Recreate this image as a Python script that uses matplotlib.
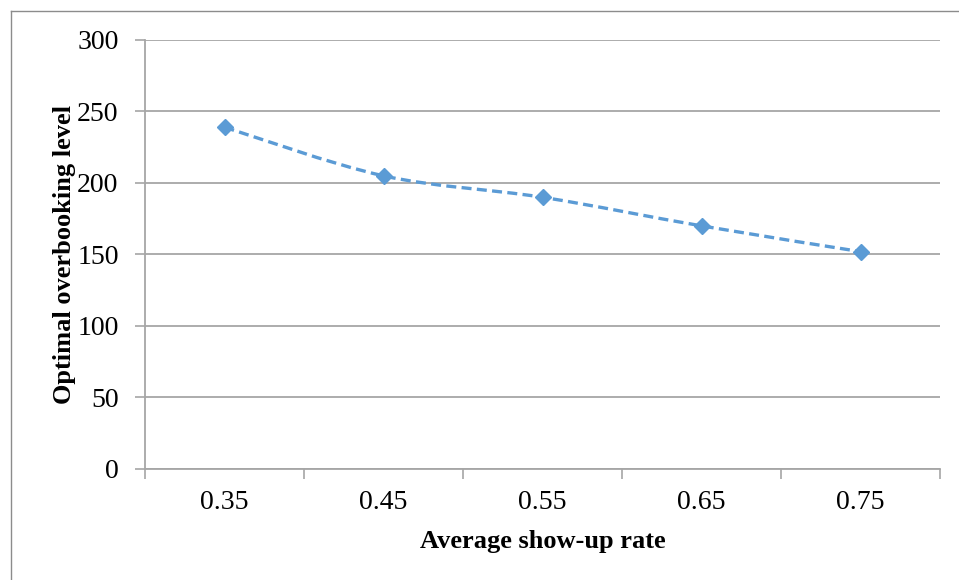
import numpy as np
import matplotlib
matplotlib.use("Agg")
import matplotlib.pyplot as plt
from matplotlib.path import Path
from matplotlib.patches import PathPatch
from matplotlib.lines import Line2D

# Datos
tasas = ["0.35", "0.45", "0.55", "0.65", "0.75"]
nivel = [239, 205, 190, 170, 152]

azul = "#5B9BD5"
gris = "#A6A6A6"

plt.rcParams["font.family"] = ["Liberation Serif", "DejaVu Serif"]

fig = plt.figure(figsize=(9.59, 5.8), dpi=100)
ax = fig.add_axes([0.1512, 0.1914, 0.829, 0.7397])

x = np.arange(len(tasas), dtype=float)
y = np.array(nivel, dtype=float)

# Linea suavizada (Bezier tipo Catmull-Rom entre puntos)
px = np.concatenate([[x[0]], x, [x[-1]]])
py = np.concatenate([[y[0]], y, [y[-1]]])
verts = [(x[0], y[0])]
codes = [Path.MOVETO]
for i in range(1, len(px) - 2):
    c1 = (px[i] + (px[i + 1] - px[i - 1]) / 6, py[i] + (py[i + 1] - py[i - 1]) / 6)
    c2 = (px[i + 1] - (px[i + 2] - px[i]) / 6, py[i + 1] - (py[i + 2] - py[i]) / 6)
    verts += [c1, c2, (px[i + 1], py[i + 1])]
    codes += [Path.CURVE4] * 3
curva = PathPatch(Path(verts, codes), facecolor="none", edgecolor=azul,
                  linewidth=2.4, linestyle=(0, (3, 1.6)), zorder=3)
ax.add_patch(curva)
ax.plot(x, y, linestyle="none", marker="D", markersize=8.5, color=azul, zorder=4)

# Ejes estilo Excel
ax.set_xlim(-0.5, len(tasas) - 0.5)
ax.set_ylim(0, 300)
ax.set_yticks(np.arange(0, 301, 50))
ax.set_xticks(np.arange(-0.5, len(tasas), 1.0))
ax.set_xticklabels([])
ax.set_xticks(x, minor=True)
ax.set_xticklabels(tasas, minor=True)
ax.tick_params(axis="x", which="major", length=7, width=1.2, color=gris, direction="out")
ax.tick_params(axis="x", which="minor", length=0, pad=15, labelsize=20)
ax.tick_params(axis="y", length=7, width=1.2, color=gris, labelsize=20, pad=12)
ax.grid(axis="y", color=gris, linewidth=1.3)
ax.set_axisbelow(True)
for lado in ["top", "right"]:
    ax.spines[lado].set_visible(False)
for lado in ["left", "bottom"]:
    ax.spines[lado].set_color(gris)
    ax.spines[lado].set_linewidth(1.3)

ax.set_xlabel("Average show-up rate", fontsize=19, fontweight="bold", labelpad=11)
ax.set_ylabel("Optimal overbooking level", fontsize=19, fontweight="bold", labelpad=1)

# Marco del grafico
fig.add_artist(Line2D([10.5 / 959, 10.5 / 959], [0, 1 - 10.5 / 580],
                      transform=fig.transFigure, color="#8C8C8C", linewidth=1))
fig.add_artist(Line2D([10.5 / 959, 1], [1 - 10.5 / 580, 1 - 10.5 / 580],
                      transform=fig.transFigure, color="#8C8C8C", linewidth=1))

fig.savefig("out.png", dpi=100, facecolor="white")
